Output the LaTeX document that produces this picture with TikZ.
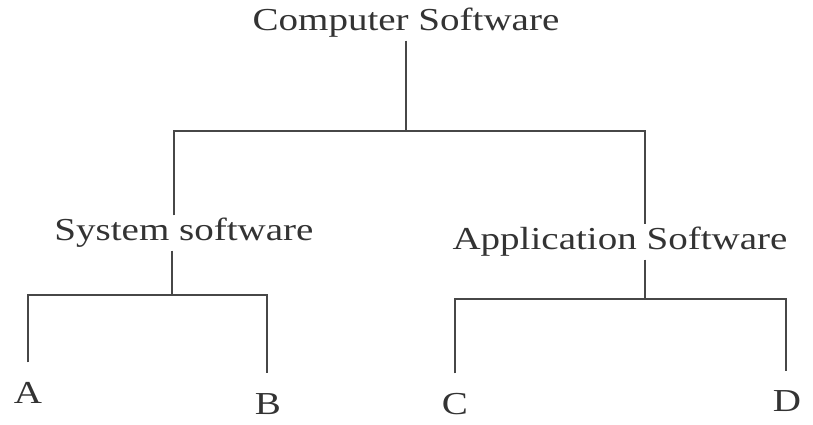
\documentclass[tikz,border=0pt]{standalone}
\usepackage{fontspec}
\setmainfont{Liberation Serif}[FakeStretch=1.22]
\begin{document}
\begin{tikzpicture}[x=1pt,y=-1pt,
  lbl/.style={text=black!80, font=\fontsize{32}{34}\selectfont, inner sep=0pt, outer sep=3pt},
  leaf/.style={lbl, outer sep=20pt},
  link/.style={draw=black!72, line width=2.2pt}]
\useasboundingbox (0,0) rectangle (813,424);
\node[lbl] (cs) at (406,23) {Computer Software};
\node[lbl] (ss) at (184,233) {System software};
\node[lbl] (as) at (620,242) {Application Software};
\node[leaf] (a) at (28,393) {A};
\node[leaf] (b) at (268,404) {B};
\node[leaf] (c) at (455,404) {C};
\node[leaf] (d) at (787,401) {D};
\coordinate (j0) at (406,131);
\coordinate (jl) at (174,131);
\coordinate (jr) at (645,131);
\coordinate (k0) at (172,295);
\coordinate (kl) at (28,295);
\coordinate (kr) at (267,295);
\coordinate (m0) at (645,299);
\coordinate (ml) at (455,299);
\coordinate (mr) at (786,299);
\draw[link] (cs.south) -- (j0);
\draw[link] (ss.north -| jl) -- (jl) -- (jr) -- (as.north -| jr);
\draw[link] (ss.south -| k0) -- (k0);
\draw[link] (a.north -| kl) -- (kl) -- (kr) -- (b.north -| kr);
\draw[link] (as.south -| m0) -- (m0);
\draw[link] (c.north -| ml) -- (ml) -- (mr) -- (d.north -| mr);
\end{tikzpicture}
\end{document}
